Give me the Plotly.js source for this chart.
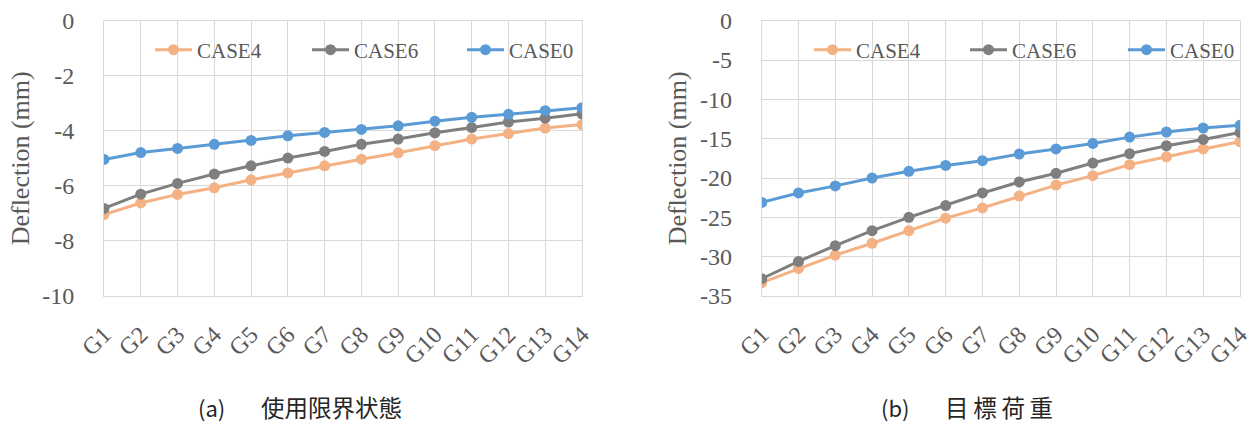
<!DOCTYPE html>
<html>
<head>
<meta charset="utf-8">
<script src="https://cdn.plot.ly/plotly-3.0.1.min.js"></script>
<style>html,body{margin:0;padding:0;background:#fff;overflow:hidden;width:1253px;height:425px;}#chart{width:1253px;height:425px;overflow:hidden;}</style>
</head>
<body>
<div id="chart"></div>
<script>
const categories = ["G1","G2","G3","G4","G5","G6","G7","G8","G9","G10","G11","G12","G13","G14"];
const seriesNames = ["CASE4","CASE6","CASE0"];
// (a) 使用限界状態
const a_case4 = [-7.04,-6.62,-6.31,-6.07,-5.78,-5.53,-5.27,-5.03,-4.80,-4.54,-4.30,-4.10,-3.90,-3.77];
const a_case6 = [-6.82,-6.30,-5.91,-5.57,-5.27,-4.99,-4.75,-4.49,-4.30,-4.07,-3.88,-3.68,-3.54,-3.38];
const a_case0 = [-5.04,-4.79,-4.64,-4.49,-4.35,-4.18,-4.06,-3.95,-3.82,-3.65,-3.51,-3.40,-3.27,-3.16];
// (b) 目標荷重
const b_case4 = [-33.3,-31.5,-29.8,-28.3,-26.7,-25.1,-23.8,-22.3,-20.9,-19.7,-18.3,-17.3,-16.3,-15.4];
const b_case6 = [-32.8,-30.6,-28.6,-26.7,-25.0,-23.5,-21.9,-20.5,-19.4,-18.1,-16.9,-15.9,-15.1,-14.2];
const b_case0 = [-23.1,-21.9,-21.0,-20.0,-19.15,-18.4,-17.8,-16.95,-16.3,-15.6,-14.8,-14.15,-13.64,-13.3];
// y-axis ticks
const a_yTickVals = [0, -2, -4, -6, -8, -10];
const a_yTickText = ["0", "-2", "-4", "-6", "-8", "-10"];
const b_yTickVals = [0, -5, -10, -15, -20, -25, -30, -35];
const b_yTickText = ["0", "-5", "-10", "-15", "-20", "-25", "-30", "-35"];
const captionA = ["(a)", "使用限界状態"];
const captionB = ["(b)", "目標荷重"];
const yTitle = "Deflection (mm)";

const colors = ["#F4B183", "#7F7F7F", "#5B9BD5"];

function mk(y, i, xa, ya, lg) {
  return {
    x: categories, y: y, name: seriesNames[i], type: "scatter", mode: "lines+markers",
    xaxis: xa, yaxis: ya, legend: lg,
    line: {color: colors[i], width: 3},
    marker: {color: colors[i], size: 11}
  };
}
const data = [
  mk(a_case4, 0, "x", "y", "legend"),
  mk(a_case6, 1, "x", "y", "legend2"),
  mk(a_case0, 2, "x", "y", "legend3"),
  mk(b_case4, 0, "x2", "y2", "legend4"),
  mk(b_case6, 1, "x2", "y2", "legend5"),
  mk(b_case0, 2, "x2", "y2", "legend6")
];

const serif = "'Liberation Serif', 'Times New Roman', serif";
const grid = "#D9D9D9";

function xax(dom, anchor) {
  return {
    domain: dom, anchor: anchor, type: "category", range: [0, 13],
    showgrid: true, gridcolor: grid, gridwidth: 1,
    showline: true, linecolor: grid, linewidth: 1, mirror: true,
    ticks: "", tickangle: -45, tickfont: {family: serif, size: 24, color: "#595959"}, ticklabelstandoff: 14,
    fixedrange: true
  };
}
function yax(dom, anchor, range, tv, tt) {
  return {
    domain: dom, anchor: anchor, range: range, tickmode: "array", tickvals: tv, ticktext: tt,
    showgrid: true, gridcolor: grid, gridwidth: 1, zeroline: false,
    showline: true, linecolor: grid, linewidth: 1, mirror: true,
    ticks: "", tickfont: {family: serif, size: 24, color: "#595959"}, ticklabelstandoff: 24,
    title: {text: yTitle, font: {family: serif, size: 26, color: "#595959"}, standoff: 5},
    fixedrange: true
  };
}
const yDom = [1 - 296 / 425, 1 - 20.7 / 425];
function lg(xpx) {
  return {
    orientation: "h", bgcolor: "rgba(255,255,255,0)", borderwidth: 0,
    font: {family: serif, size: 21, color: "#595959"},
    itemwidth: 37, yanchor: "middle", y: 1 - 50 / 425, xanchor: "left", x: xpx / 1253
  };
}
const capFont = {family: "Noto Sans CJK JP", size: 22, color: "#262626"};
const capY = 1 - 407 / 425;

const layout = {
  width: 1253, height: 425,
  margin: {l: 0, r: 0, t: 0, b: 0},
  paper_bgcolor: "#fff", plot_bgcolor: "#fff",
  xaxis: xax([104 / 1253, 582 / 1253], "y"),
  yaxis: yax(yDom, "x", [-10, 0], a_yTickVals, a_yTickText),
  xaxis2: xax([761.7 / 1253, 1240 / 1253], "y2"),
  yaxis2: yax(yDom, "x2", [-35, 0], b_yTickVals, b_yTickText),
  legend: lg(150), legend2: lg(307), legend3: lg(462),
  legend4: lg(809), legend5: lg(965), legend6: lg(1123),
  shapes: [
    {type: "rect", layer: "between", xref: "x domain", yref: "paper", x0: 0, x1: 1,
     y0: 1 - 67 / 425, y1: 1 - 32 / 425, fillcolor: "#fff", line: {width: 0}},
    {type: "rect", layer: "between", xref: "x2 domain", yref: "paper", x0: 0, x1: 1,
     y0: 1 - 67 / 425, y1: 1 - 32 / 425, fillcolor: "#fff", line: {width: 0}}
  ],
  annotations: [
    {text: captionA[0], xref: "paper", yref: "paper", x: 211 / 1253, y: capY, showarrow: false, font: capFont, xanchor: "center", yanchor: "middle"},
    {text: captionA[1], xref: "paper", yref: "paper", x: 331.5 / 1253, y: capY, showarrow: false, font: Object.assign({}, capFont, {size: 23.5}), xanchor: "center", yanchor: "middle"},
    {text: captionB[0], xref: "paper", yref: "paper", x: 895 / 1253, y: capY, showarrow: false, font: capFont, xanchor: "center", yanchor: "middle"},
    {text: captionB[1].split("").join("\u2009"), xref: "paper", yref: "paper", x: 999 / 1253, y: capY, showarrow: false, font: Object.assign({}, capFont, {size: 23.5}), xanchor: "center", yanchor: "middle"}
  ],
  showlegend: true
};

Plotly.newPlot("chart", data, layout, {displayModeBar: false, staticPlot: true});
</script>
</body>
</html>
